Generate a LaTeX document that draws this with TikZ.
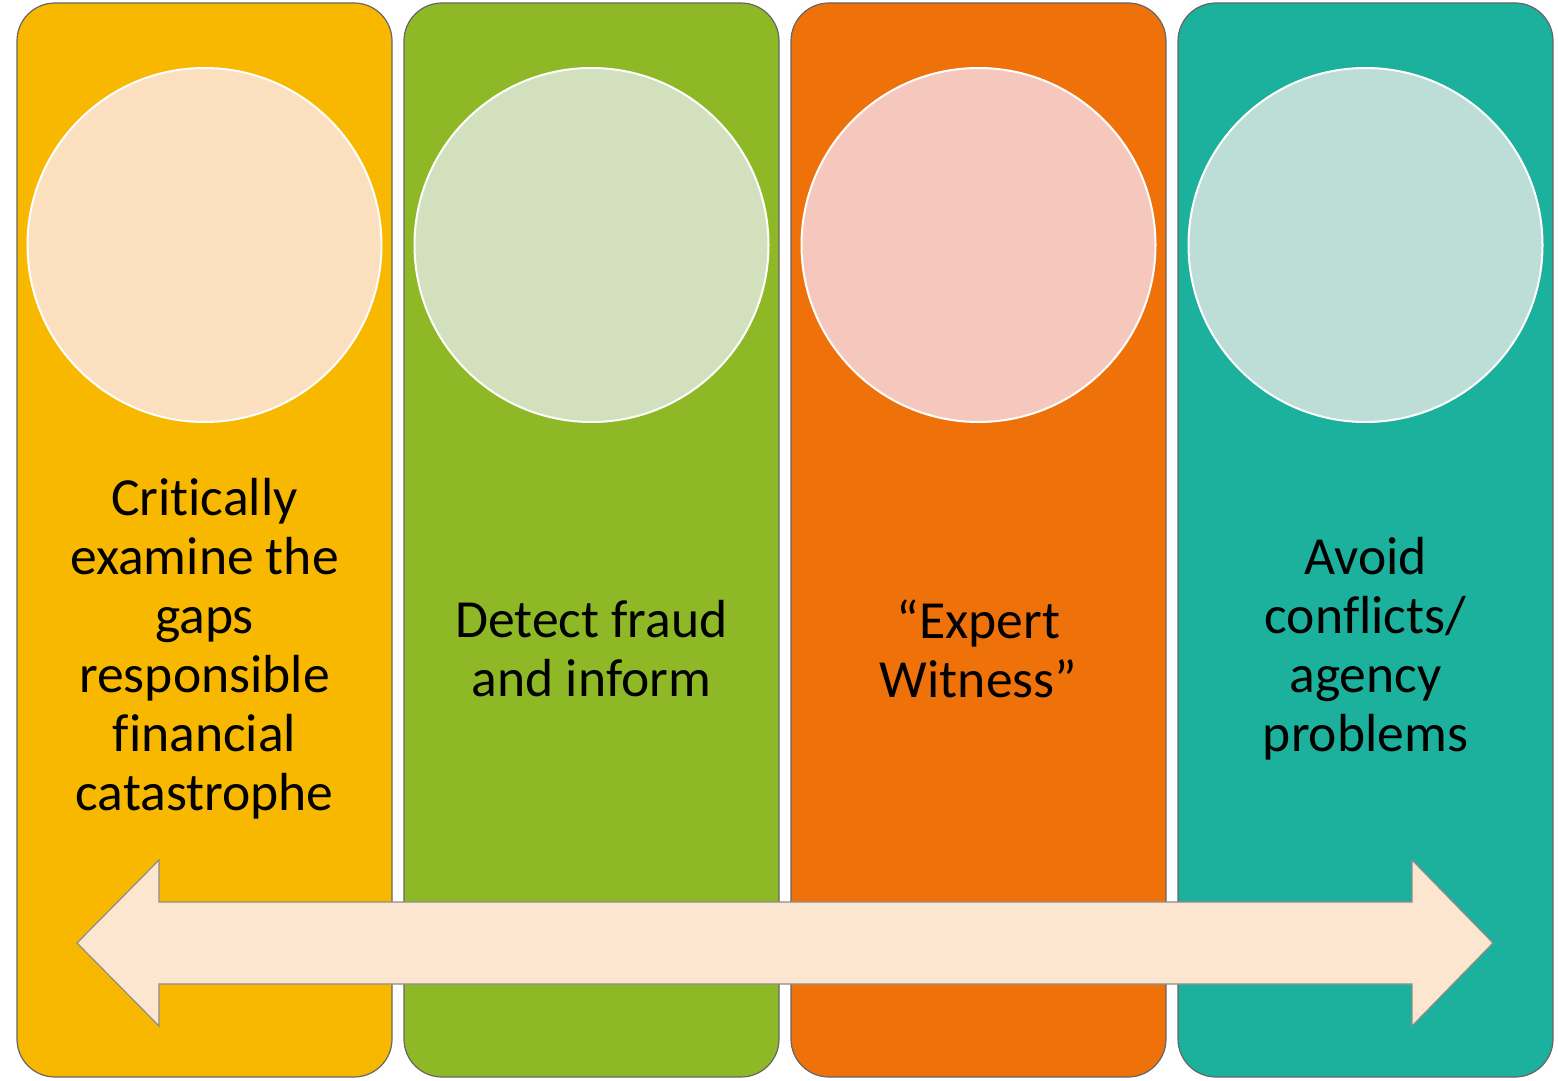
\documentclass[tikz,border=0pt]{standalone}
\usepackage{fontspec}
\setmainfont[Ligatures=NoCommon]{Carlito}
\usetikzlibrary{positioning}
\definecolor{panelyellow}{HTML}{F9B800}
\definecolor{panelgreen}{HTML}{8FB826}
\definecolor{panelorange}{HTML}{EE710A}
\definecolor{panelteal}{HTML}{1BB19D}
\definecolor{discyellow}{HTML}{FBDFBE}
\definecolor{discgreen}{HTML}{D2E0BE}
\definecolor{discorange}{HTML}{F6C8BD}
\definecolor{discteal}{HTML}{BDDDD7}
\definecolor{bandfill}{HTML}{FDE6CF}
\tikzset{
    node distance=6pt, % Gap between two panels
    panel/.style={ % The tall rounded boxes
        draw=black!60,
        line width=0.6pt,
        rounded corners=19pt,
        minimum width=187.5pt,
        minimum height=537pt,
        inner sep=0pt,
        outer sep=0pt
    },
    disc/.style={ % Pale circle on top of each panel
        circle,
        draw=white,
        line width=1pt,
        minimum size=177pt,
        inner sep=0pt
    },
    caption/.style={ % Text in the lower half of a panel
        align=center,
        font=\fontsize{26.8}{29.5}\selectfont
    },
    band/.style={ % The two-headed arrow across the panels
        fill=bandfill,
        draw=black!45,
        line width=0.6pt
    }
}

\begin{document}
\begin{tikzpicture}[x=0.5pt,y=-0.5pt]
            \useasboundingbox (0,0) rectangle (1558,1081);

            \node[panel, fill=panelyellow] (p1) at (204.5,540) {};
            \node[panel, fill=panelgreen, right=of p1] (p2) {};
            \node[panel, fill=panelorange, right=of p2] (p3) {};
            \node[panel, fill=panelteal, right=of p3] (p4) {};

            \node[disc, fill=discyellow, below=32pt of p1.north] (c1) {};
            \node[disc, fill=discgreen, below=32pt of p2.north] (c2) {};
            \node[disc, fill=discorange, below=32pt of p3.north] (c3) {};
            \node[disc, fill=discteal, below=32pt of p4.north] (c4) {};

            \node[caption] (t1) at ([yshift=-54.5pt]p1.center) {Critically\\examine the\\gaps\\responsible\\financial\\catastrophe};
            \node[caption] (t2) at ([yshift=-54.5pt]p2.center) {Detect fraud\\and inform};
            \node[caption] (t3) at ([yshift=-54.5pt]p3.center) {“Expert\\Witness”};
            \node[caption] (t4) at ([yshift=-54.5pt]p4.center) {Avoid\\conflicts/\\agency\\problems};

            \coordinate (lt) at (77,943);
            \coordinate (rt) at (1493,943);
            \draw[band] (lt) -- (159,860) -- (159,902) -- (1412,902) -- (1412,860) -- (rt)
                -- (1412,1026) -- (1412,984) -- (159,984) -- (159,1026) -- cycle;
        \end{tikzpicture}
\end{document}
